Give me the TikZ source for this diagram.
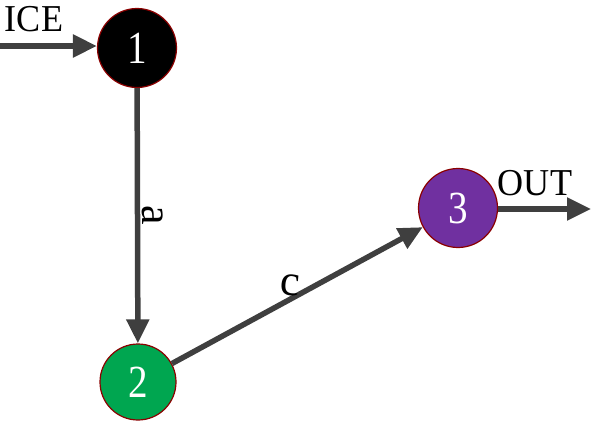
\documentclass[tikz,border=0pt]{standalone}
\usepackage{fontspec}
\setmainfont{Liberation Serif}
\usetikzlibrary{arrows.meta}
\definecolor{lineg}{HTML}{3F3F3F}
\definecolor{ngreen}{HTML}{00A650}
\definecolor{npurple}{HTML}{7030A0}
\definecolor{nborder}{HTML}{8B0000}
\begin{document}
\begin{tikzpicture}[x=1pt,y=-1pt,
  statenode/.style={circle,draw=nborder,line width=1.2pt,minimum size=79pt,inner sep=0pt,text=white,font=\fontsize{46}{46}\selectfont},
  conn/.style={draw=lineg,line width=5.5pt,-{Triangle[length=24pt,width=22pt]}},
  lbl/.style={font=\fontsize{38}{38}\selectfont,inner sep=0pt},
  elbl/.style={font=\fontsize{44}{44}\selectfont,inner sep=0pt}]
\useasboundingbox (0,0) rectangle (591,422);
\node[statenode,fill=black] (n1) at (137,48) {\scalebox{0.85}[1]{1}};
\node[statenode,fill=ngreen,minimum size=76pt] (n2) at (138,382) {\scalebox{0.85}[1]{2}};
\node[statenode,fill=npurple] (n3) at (458,208) {\scalebox{0.85}[1]{3}};
\coordinate (inS) at (0,46);
\coordinate (outE) at (591,209);
\draw[conn] (inS) -- (n1.west |- inS);
\draw[conn] (n1) -- (n2);
\draw[conn] (n2) -- (n3);
\draw[conn] (n3.east |- outE) -- (outE);
\node[lbl] (ice) at (34,19) {\scalebox{0.95}[1]{ICE}};
\node[lbl] (out) at (535,183) {\scalebox{0.95}[1]{OUT}};
\node[elbl,rotate=-90] (la) at (153,215) {a};
\node[elbl,rotate=-5] (lc) at (290,285) {c};
\end{tikzpicture}
\end{document}
